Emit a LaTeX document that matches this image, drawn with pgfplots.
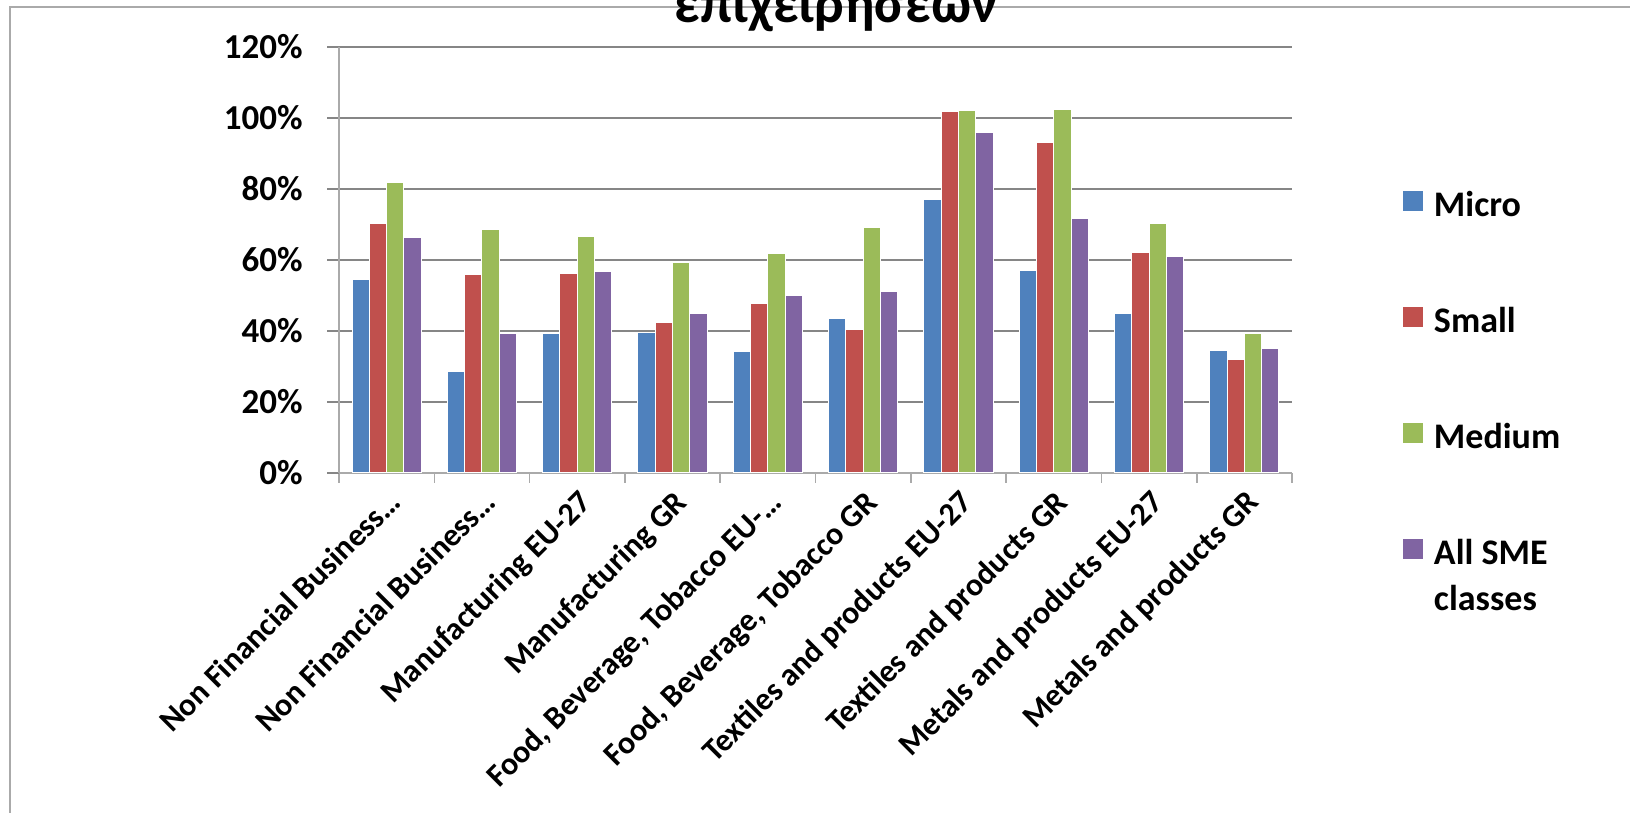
\documentclass[border=0pt]{standalone}
\usepackage{pgfplots}
\pgfplotsset{compat=1.18}
\usepackage{fontspec}
\setmainfont{Carlito}
\definecolor{cMicro}{HTML}{4F81BD}
\definecolor{cSmall}{HTML}{C0504D}
\definecolor{cMedium}{HTML}{9BBB59}
\definecolor{cAll}{HTML}{8064A2}
\definecolor{gridc}{RGB}{134,134,134}
\definecolor{axisc}{RGB}{170,170,170}
\begin{document}
\begin{tikzpicture}
\path[use as bounding box] (0,0) rectangle (815pt,406.5pt);
\draw[axisc, line width=0.6pt] (5pt,0pt) -- (5pt,403pt) -- (815pt,403pt);
\node[anchor=base, font=\fontsize{28pt}{32pt}\selectfont\bfseries, inner sep=0pt] at (418pt,395pt) {επιχειρησεων};
\begin{axis}[
  at={(169.5pt,170pt)}, anchor=south west,
  scale only axis, width=476.5pt, height=213pt,
  ybar=0pt, bar width=0.1815,
  xmin=-0.5, xmax=9.5, ymin=0, ymax=120,
  axis lines=left, axis line style={-, axisc, line width=0.8pt},
  ytick={0,20,...,120},
  yticklabels={0\%,20\%,40\%,60\%,80\%,100\%,120\%},
  ymajorgrids, grid style={gridc, line width=0.8pt},
  tick align=outside, major tick length=6pt, minor tick length=5pt,
  major y tick style={gridc, line width=0.8pt},
  xtick={0,...,9},
  major x tick style={draw=none},
  minor xtick={-0.5,0.5,...,9.5},
  minor x tick style={axisc, line width=0.8pt},
  xticklabels={Non Financial Business\dots, Non Financial Business\dots, Manufacturing EU-27, Manufacturing GR, {Food, Beverage, Tobacco EU-\dots}, {Food, Beverage, Tobacco GR}, Textiles and products EU-27, Textiles and products GR, Metals and products EU-27, Metals and products GR},
  yticklabel style={font=\fontsize{17.5pt}{20pt}\selectfont\bfseries, inner sep=0pt, xshift=-12pt},
  xticklabel style={font=\fontsize{16pt}{18pt}\selectfont\bfseries, rotate=45, anchor=north east, inner sep=1pt},
  legend style={at={(1.1154,0.664)}, anchor=north west, draw=none, fill=none,
    inner sep=0pt, outer sep=0pt, row sep=42.7pt, column sep=5pt,
    font=\fontsize{18pt}{23pt}\selectfont\bfseries,
    nodes={inner sep=0pt, text height=12pt, text depth=2pt},
    cells={anchor=west}},
  legend image code/.code={\fill[#1] (0pt,-2.5pt) rectangle (10.5pt,8pt);},
  every axis plot/.append style={draw=white, line width=0.5pt},
]
\addplot[fill=cMicro] coordinates {(0,54.6) (1,28.5) (2,39.2) (3,39.5) (4,34.1) (5,43.5) (6,77.1) (7,56.9) (8,45.0) (9,34.6)};
\addplot[fill=cSmall] coordinates {(0,70.2) (1,55.8) (2,56.3) (3,42.4) (4,47.8) (5,40.3) (6,101.8) (7,93.2) (8,62.0) (9,31.9)};
\addplot[fill=cMedium] coordinates {(0,81.7) (1,68.5) (2,66.7) (3,59.2) (4,61.9) (5,69.2) (6,102.2) (7,102.5) (8,70.4) (9,39.2)};
\addplot[fill=cAll] coordinates {(0,66.3) (1,39.4) (2,56.7) (3,45.0) (4,49.9) (5,51.2) (6,96.0) (7,71.8) (8,61.0) (9,35.2)};
\legend{Micro, Small, Medium, {\vtop{\hbox{All SME}\hbox{classes}}}}
\end{axis}
\end{tikzpicture}
\end{document}
